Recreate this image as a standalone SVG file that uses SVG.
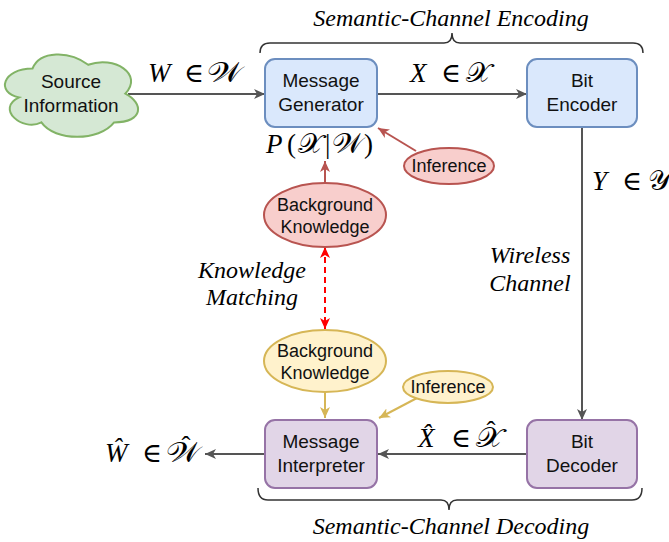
<svg xmlns="http://www.w3.org/2000/svg" width="669" height="542" viewBox="0 0 669 542">
<style>
.node{font-family:"Liberation Sans",Arial,sans-serif;font-size:19px;fill:#111;text-anchor:middle}
.enode{font-family:"Liberation Sans",Arial,sans-serif;font-size:18px;fill:#111;text-anchor:middle}
.lbl{font-family:"Liberation Serif","Times New Roman",serif;font-style:italic;font-size:24px;fill:#000;text-anchor:middle}
.math{font-family:"Liberation Serif","DejaVu Serif","Noto Sans",serif;font-size:27px;fill:#000}
.it{font-style:italic}
.conn{fill:none;stroke:#555;stroke-width:2}
.red{fill:none;stroke:#b85450;stroke-width:2}
.yel{fill:none;stroke:#d6b656;stroke-width:2}
.brace{fill:none;stroke:#333;stroke-width:1.5}
</style>
<defs>
<marker id="ag" markerWidth="12" markerHeight="10" refX="11" refY="5" orient="auto" markerUnits="userSpaceOnUse"><path d="M0,0 L11,5 L0,10 L3,5 Z" fill="#555"/></marker>
<marker id="ar" markerWidth="12" markerHeight="10" refX="11" refY="5" orient="auto" markerUnits="userSpaceOnUse"><path d="M0,0 L11,5 L0,10 L3,5 Z" fill="#b85450"/></marker>
<marker id="ay" markerWidth="12" markerHeight="10" refX="11" refY="5" orient="auto" markerUnits="userSpaceOnUse"><path d="M0,0 L11,5 L0,10 L3,5 Z" fill="#d6b656"/></marker>
<marker id="ad" markerWidth="12" markerHeight="10" refX="11" refY="5" orient="auto-start-reverse" markerUnits="userSpaceOnUse"><path d="M0,0 L11,5 L0,10 L3,5 Z" fill="#ff0000"/></marker>
</defs>

<g id="braces">
<path class="brace" d="M260,53 Q260,43 270,43 L444,43 Q452,43 452,33 Q452,43 460,43 L633,43 Q643,43 643,53"/>
<path class="brace" d="M258,488 Q258,500 268,500 L441,500 Q449,500 449,510 Q449,500 457,500 L632,500 Q642,500 642,488"/>
</g>
<text class="lbl" x="451" y="26">Semantic-Channel Encoding</text>
<text class="lbl" x="451" y="534">Semantic-Channel Decoding</text>
<text class="lbl" x="252" y="278">Knowledge</text>
<text class="lbl" x="252" y="305">Matching</text>
<text class="lbl" x="530" y="263">Wireless</text>
<text class="lbl" x="530" y="291">Channel</text>

<g id="connectors">
<path class="conn" d="M128,94 L265,94" marker-end="url(#ag)"/>
<path class="conn" d="M377,94 L527,94" marker-end="url(#ag)"/>
<path class="conn" d="M582,127 L582,420" marker-end="url(#ag)"/>
<path class="conn" d="M527,454 L378,454" marker-end="url(#ag)"/>
<path class="conn" d="M265,454 L205,454" marker-end="url(#ag)"/>
<path class="red" d="M325,183 L325,161" marker-end="url(#ar)"/>
<path class="red" d="M416,151 L378,128" marker-end="url(#ar)"/>
<path d="M325,247 L325,329" fill="none" stroke="#ff0000" stroke-width="2" stroke-dasharray="6,4" marker-start="url(#ad)" marker-end="url(#ad)"/>
<path class="yel" d="M325,392 L325,418" marker-end="url(#ay)"/>
<path class="yel" d="M417,398 L379,418" marker-end="url(#ay)"/>
</g>

<g id="math-labels">
<text class="math" y="82"><tspan class="it" x="148">W</tspan><tspan x="184">∈</tspan><tspan x="207" textLength="35" lengthAdjust="spacingAndGlyphs">𝒲</tspan></text>
<text class="math" y="82"><tspan class="it" x="410">X</tspan><tspan x="441">∈</tspan><tspan x="466" textLength="25" lengthAdjust="spacingAndGlyphs">𝒳</tspan></text>
<text class="math" y="190"><tspan class="it" x="592">Y</tspan><tspan x="622">∈</tspan><tspan x="648" textLength="22" lengthAdjust="spacingAndGlyphs">𝒴</tspan></text>
<text class="math" y="153"><tspan class="it" x="266">P</tspan><tspan x="287">(</tspan><tspan x="298" textLength="25" lengthAdjust="spacingAndGlyphs">𝒳</tspan><tspan x="325">|</tspan><tspan x="332" textLength="31" lengthAdjust="spacingAndGlyphs">𝒲</tspan><tspan x="364">)</tspan></text>
<text class="math" y="447"><tspan class="it" x="418">X̂</tspan><tspan x="451">∈</tspan><tspan x="476" textLength="27" lengthAdjust="spacingAndGlyphs">𝒳</tspan><tspan x="486.5" y="440">ˆ</tspan></text>
<text class="math" y="462"><tspan class="it" x="105">Ŵ</tspan><tspan x="142">∈</tspan><tspan x="166" textLength="34" lengthAdjust="spacingAndGlyphs">𝒲</tspan><tspan x="181.5" y="455">ˆ</tspan></text>
</g>

<g id="source">
<path d="M32.5,68.5 C2.7,68.5 -4.7,92.5 19.1,97.4 C-4.7,108.5 22.1,132 41.4,122.4 C54.7,141.6 99.3,141.6 114.1,122.4 C143.9,122.4 143.9,103.2 125.3,93.6 C143.9,74.4 114.1,55.2 88.2,64.8 C69.6,50.4 39.9,50.4 32.5,68.5 Z" fill="#d5e8d4" stroke="#82b366" stroke-width="2"/>
<text class="node" x="71" y="88">Source</text>
<text class="node" x="71" y="112">Information</text>
</g>
<g id="gen">
<rect x="265" y="59" width="112" height="68" rx="10" fill="#dae8fc" stroke="#6c8ebf" stroke-width="2"/>
<text class="node" x="321" y="87">Message</text>
<text class="node" x="321" y="111">Generator</text>
</g>
<g id="enc">
<rect x="527" y="59" width="110" height="68" rx="10" fill="#dae8fc" stroke="#6c8ebf" stroke-width="2"/>
<text class="node" x="582" y="87">Bit</text>
<text class="node" x="582" y="111">Encoder</text>
</g>
<g id="dec">
<rect x="527" y="420" width="110" height="68" rx="10" fill="#e1d5e7" stroke="#9673a6" stroke-width="2"/>
<text class="node" x="582" y="448">Bit</text>
<text class="node" x="582" y="472">Decoder</text>
</g>
<g id="interp">
<rect x="265" y="420" width="112" height="68" rx="10" fill="#e1d5e7" stroke="#9673a6" stroke-width="2"/>
<text class="node" x="321" y="448">Message</text>
<text class="node" x="321" y="472">Interpreter</text>
</g>
<g id="bk-red">
<ellipse cx="325" cy="215" rx="61" ry="32" fill="#f8cecc" stroke="#b85450" stroke-width="2"/>
<text class="enode" x="325" y="211">Background</text>
<text class="enode" x="325" y="233">Knowledge</text>
</g>
<g id="inf-red">
<ellipse cx="449" cy="166" rx="45" ry="18" fill="#f8cecc" stroke="#b85450" stroke-width="2"/>
<text class="enode" x="449" y="172">Inference</text>
</g>
<g id="bk-yel">
<ellipse cx="325" cy="361" rx="61" ry="31" fill="#fff2cc" stroke="#d6b656" stroke-width="2"/>
<text class="enode" x="325" y="357">Background</text>
<text class="enode" x="325" y="379">Knowledge</text>
</g>
<g id="inf-yel">
<ellipse cx="448" cy="387" rx="45" ry="16" fill="#fff2cc" stroke="#d6b656" stroke-width="2"/>
<text class="enode" x="448" y="393">Inference</text>
</g>
</svg>
